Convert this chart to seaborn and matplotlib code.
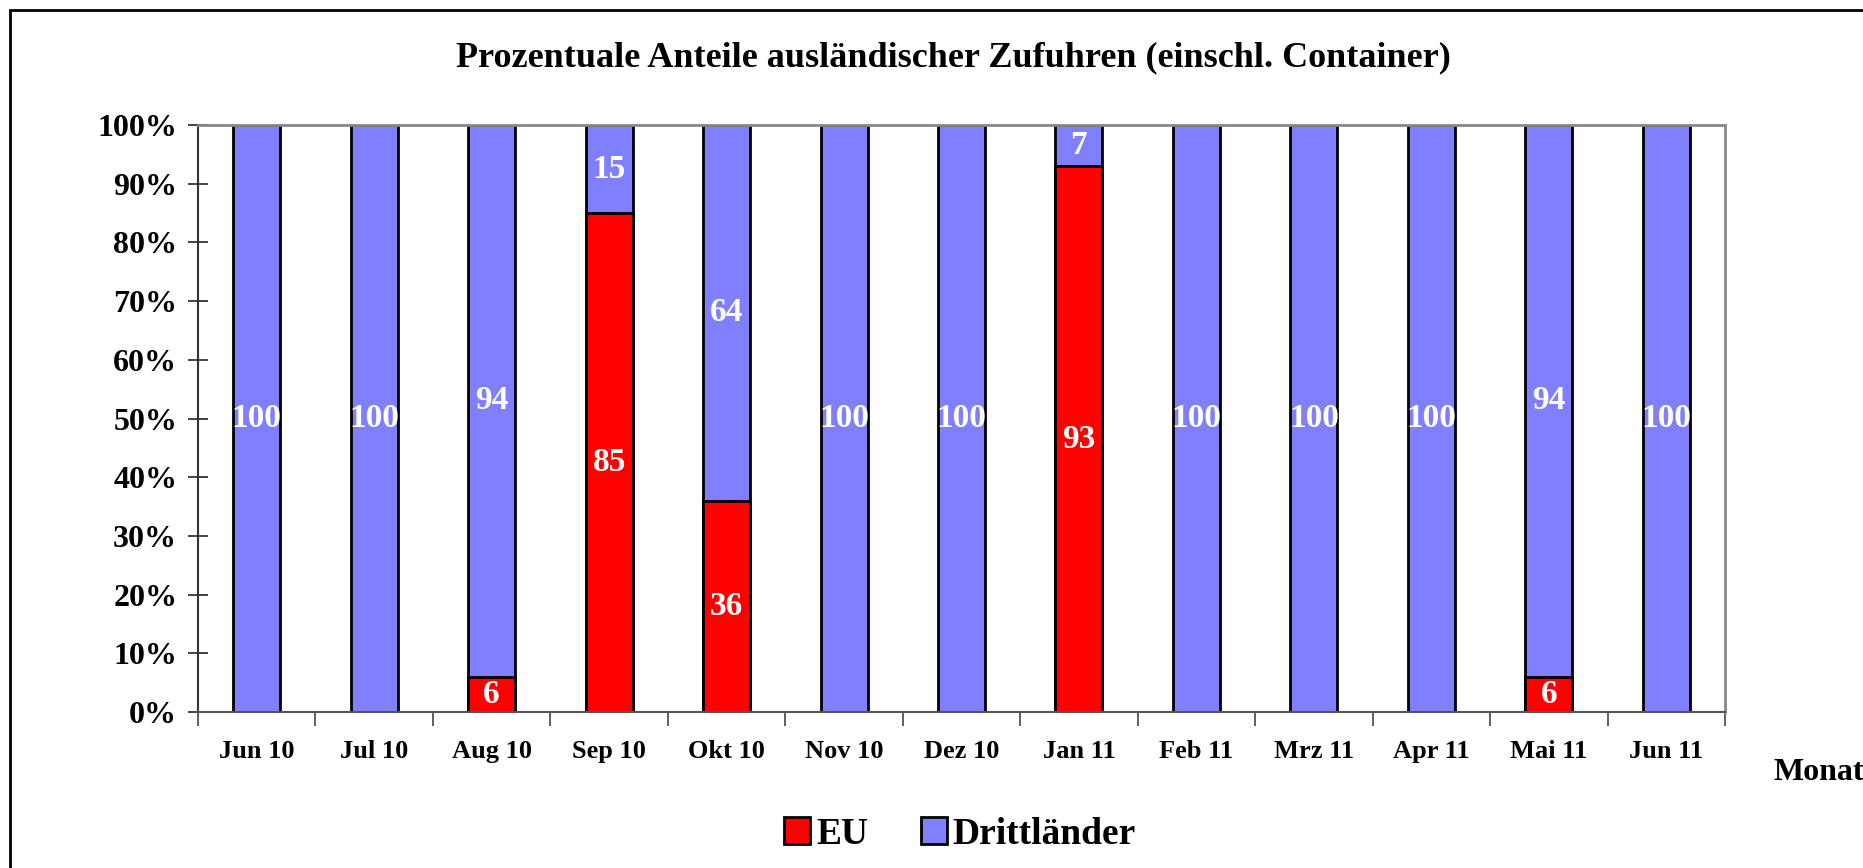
import matplotlib
matplotlib.use("Agg")
import matplotlib.pyplot as plt
import seaborn as sns
import pandas as pd
import numpy as np
from matplotlib.patches import Rectangle, Patch

months = ["Jun 10", "Jul 10", "Aug 10", "Sep 10", "Okt 10", "Nov 10", "Dez 10",
          "Jan 11", "Feb 11", "Mrz 11", "Apr 11", "Mai 11", "Jun 11"]
eu = [0, 0, 6, 85, 36, 0, 0, 93, 0, 0, 0, 6, 0]
dritt = [100, 100, 94, 15, 64, 100, 100, 7, 100, 100, 100, 94, 100]
yticks = [0, 10, 20, 30, 40, 50, 60, 70, 80, 90, 100]

RED = "#FF0000"
BLUE = "#8080FF"
FONT = "Liberation Serif"

sns.set_theme(style="white")
plt.rcParams["font.family"] = [FONT, "DejaVu Serif"]
plt.rcParams["font.weight"] = "bold"
plt.rcParams["text.color"] = "black"
plt.rcParams["xtick.labelcolor"] = "black"
plt.rcParams["ytick.labelcolor"] = "black"

df = pd.DataFrame({"Monat": months, "EU": eu, "Drittländer": dritt})
df["Total"] = df["EU"] + df["Drittländer"]

W, H = 1863, 868
fig = plt.figure(figsize=(W / 100, H / 100), dpi=100)
ax = fig.add_axes([198 / W, 1 - 712 / H, (1725 - 198) / W, (712 - 125) / H])

sns.barplot(data=df, x="Monat", y="Total", color=BLUE, saturation=1, width=0.40,
            edgecolor="black", linewidth=2, ax=ax)
sns.barplot(data=df, x="Monat", y="EU", color=RED, saturation=1, width=0.40,
            edgecolor="black", linewidth=2, ax=ax)

for p in ax.patches:
    if p.get_height() == 0:
        p.set_visible(False)

ax.set_xlim(-0.5, len(months) - 0.5)
ax.set_ylim(0, 100)
ax.set_yticks(yticks)
ax.set_yticklabels([f"{v}%" for v in yticks], fontsize=23, fontweight="bold",
                   family=FONT, color="black")
ax.set_xticks(range(len(months)))
ax.set_xticklabels(months, fontsize=19, fontweight="bold", family=FONT, color="black")
ax.set_xticks(np.arange(-0.5, len(months), 1), minor=True)
ax.tick_params(axis="x", which="major", bottom=True, length=0, pad=20)
ax.tick_params(axis="x", which="minor", bottom=True, length=10, width=1.2,
               direction="out", color="#444444")
ax.tick_params(axis="y", which="major", left=True, length=14, width=1.2,
               direction="inout", color="#222222", pad=8)
ax.set_xlabel("")
ax.set_ylabel("")

for side in ["top", "right"]:
    ax.spines[side].set_color("#888888")
    ax.spines[side].set_linewidth(2)
ax.spines["left"].set_color("#333333")
ax.spines["left"].set_linewidth(1.5)
ax.spines["bottom"].set_color("#555555")
ax.spines["bottom"].set_linewidth(1.5)

for i, (e, d) in enumerate(zip(eu, dritt)):
    if e > 0:
        ax.text(i, e / 2, f"{e}", ha="center", va="center", color="white",
                fontsize=24, fontweight="bold", family=FONT)
    if d > 0:
        ax.text(i, e + d / 2, f"{d}", ha="center", va="center", color="white",
                fontsize=24, fontweight="bold", family=FONT)

fig.text(953 / W, 1 - 58 / H, "Prozentuale Anteile ausländischer Zufuhren (einschl. Container)",
         ha="center", va="center", fontsize=26, fontweight="bold", family=FONT, color="black")
fig.text(1773 / W, 1 - 772 / H, "Monat", ha="left", va="center",
         fontsize=23, fontweight="bold", family=FONT, color="black")

handles = [Patch(facecolor=RED, edgecolor="black", linewidth=2, label="EU"),
           Patch(facecolor=BLUE, edgecolor="black", linewidth=2, label="Drittländer")]
leg = fig.legend(handles=handles, loc="center", bbox_to_anchor=(960 / W, 1 - 834 / H),
                 ncol=2, frameon=False, prop={"family": FONT, "weight": "bold", "size": 27},
                 handlelength=0.7, handleheight=0.7, handletextpad=0.15, columnspacing=1.4)
for t in leg.get_texts():
    t.set_color("black")

fig.patches.append(Rectangle((10 / W, -0.1), 1.2, 1 - 10 / H + 0.1, transform=fig.transFigure,
                             fill=False, edgecolor="black", linewidth=2))

fig.savefig("out.png", dpi=100)
